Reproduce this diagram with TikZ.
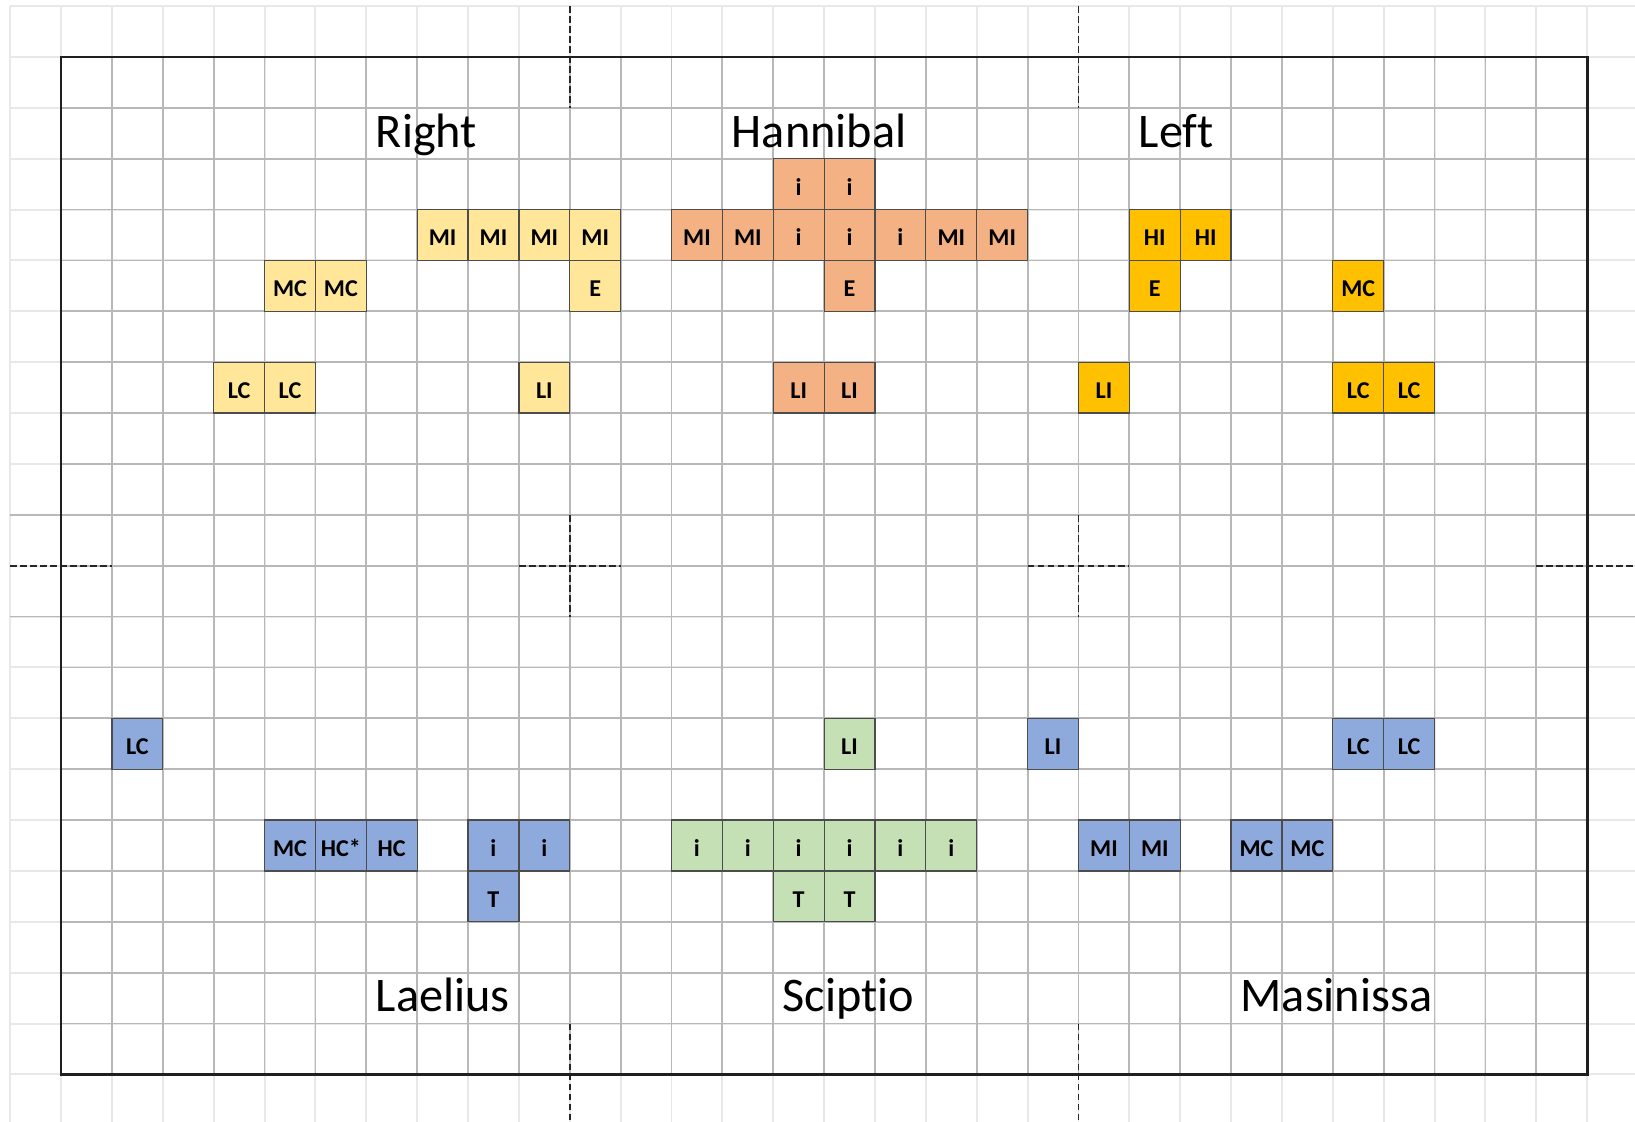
\documentclass[tikz,border=0pt]{standalone}
\usepackage{fontspec}
\setmainfont{Carlito}[Ligatures=NoCommon]

\definecolor{rightfill}{HTML}{FFE699}
\definecolor{hannfill}{HTML}{F4B183}
\definecolor{leftfill}{HTML}{FFC000}
\definecolor{romefill}{HTML}{8EA9DB}
\definecolor{scipfill}{HTML}{C5E0B4}

\tikzset{
  cell/.style={draw=black!70, line width=0.7pt, minimum size=1cm, inner sep=0pt, outer sep=0pt,
    text height=0.43cm, text depth=0cm, font=\fontsize{13.5}{15}\selectfont\bfseries},
  rightcell/.style={cell, fill=rightfill},
  hanncell/.style={cell, fill=hannfill},
  leftcell/.style={cell, fill=leftfill},
  romecell/.style={cell, fill=romefill},
  scipcell/.style={cell, fill=scipfill},
  armytitle/.style={anchor=base west, inner sep=0pt, font=\fontsize{27}{32}\selectfont},
  crossline/.style={dash pattern=on 3.8pt off 1.8pt, line width=1.1pt, black!85}
}

\begin{document}
\begin{tikzpicture}

\useasboundingbox (-1.2,1.12) rectangle (30.94,-20.92);

% sheet grid
\draw[black!9, line width=1.1pt](-1,1) grid (31,-21);
\draw[black!28, line width=1pt](0,0) grid (30,-20);
\draw[black!28, line width=1pt](-1,-9)--(31,-9);
\draw[black!28, line width=1pt](-1,-11)--(31,-11);

% dashed crosses
\draw[crossline](10,1)--(10,-1);
\draw[crossline](20,1)--(20,-1);
\draw[crossline](10,-19)--(10,-21);
\draw[crossline](20,-19)--(20,-21);
\draw[crossline](-1,-10)--(1,-10);
\draw[crossline](29,-10)--(31,-10);
\draw[crossline](9,-10)--(11,-10);
\draw[crossline](10,-9)--(10,-11);
\draw[crossline](19,-10)--(21,-10);
\draw[crossline](20,-9)--(20,-11);

\draw[black!88, line width=1.6pt](0,0) rectangle (30,-20);

\node[armytitle] (tright) at (6.18,-1.77){Right};
\node[armytitle] (thann) at (13.18,-1.77){Hannibal};
\node[armytitle] (tleft) at (21.18,-1.77){Left};
\node[armytitle] (tlael) at (6.18,-18.77){Laelius};
\node[armytitle] (tscip) at (14.18,-18.77){Sciptio};
\node[armytitle] (tmas) at (23.18,-18.77){Masinissa};

% right wing
\node[rightcell] (rMIa) at (7.5,-3.5){MI};
\node[rightcell] (rMIb) at (8.5,-3.5){MI};
\node[rightcell] (rMIc) at (9.5,-3.5){MI};
\node[rightcell] (rMId) at (10.5,-3.5){MI};
\node[rightcell] (rMCa) at (4.5,-4.5){MC};
\node[rightcell] (rMCb) at (5.5,-4.5){MC};
\node[rightcell] (rE) at (10.5,-4.5){E};
\node[rightcell] (rLCa) at (3.5,-6.5){LC};
\node[rightcell] (rLCb) at (4.5,-6.5){LC};
\node[rightcell] (rLI) at (9.5,-6.5){LI};

% Hannibal
\node[hanncell] (hia) at (14.5,-2.5){i};
\node[hanncell] (hib) at (15.5,-2.5){i};
\node[hanncell] (hMIa) at (12.5,-3.5){MI};
\node[hanncell] (hMIb) at (13.5,-3.5){MI};
\node[hanncell] (hic) at (14.5,-3.5){i};
\node[hanncell] (hid) at (15.5,-3.5){i};
\node[hanncell] (hie) at (16.5,-3.5){i};
\node[hanncell] (hMIc) at (17.5,-3.5){MI};
\node[hanncell] (hMId) at (18.5,-3.5){MI};
\node[hanncell] (hE) at (15.5,-4.5){E};
\node[hanncell] (hLIa) at (14.5,-6.5){LI};
\node[hanncell] (hLIb) at (15.5,-6.5){LI};

% left wing
\node[leftcell] (lHIa) at (21.5,-3.5){HI};
\node[leftcell] (lHIb) at (22.5,-3.5){HI};
\node[leftcell] (lE) at (21.5,-4.5){E};
\node[leftcell] (lMC) at (25.5,-4.5){MC};
\node[leftcell] (lLI) at (20.5,-6.5){LI};
\node[leftcell] (lLCa) at (25.5,-6.5){LC};
\node[leftcell] (lLCb) at (26.5,-6.5){LC};

% Laelius
\node[romecell] (laLC) at (1.5,-13.5){LC};
\node[romecell] (laMC) at (4.5,-15.5){MC};
\node[romecell] (laHCs) at (5.5,-15.5){HC*};
\node[romecell] (laHC) at (6.5,-15.5){HC};
\node[romecell] (laia) at (8.5,-15.5){i};
\node[romecell] (laib) at (9.5,-15.5){i};
\node[romecell] (laT) at (8.5,-16.5){T};

% Sciptio
\node[scipcell] (sLI) at (15.5,-13.5){LI};
\node[scipcell] (sia) at (12.5,-15.5){i};
\node[scipcell] (sib) at (13.5,-15.5){i};
\node[scipcell] (sic) at (14.5,-15.5){i};
\node[scipcell] (sid) at (15.5,-15.5){i};
\node[scipcell] (sie) at (16.5,-15.5){i};
\node[scipcell] (sif) at (17.5,-15.5){i};
\node[scipcell] (sTa) at (14.5,-16.5){T};
\node[scipcell] (sTb) at (15.5,-16.5){T};

% Masinissa
\node[romecell] (mLI) at (19.5,-13.5){LI};
\node[romecell] (mLCa) at (25.5,-13.5){LC};
\node[romecell] (mLCb) at (26.5,-13.5){LC};
\node[romecell] (mMIa) at (20.5,-15.5){MI};
\node[romecell] (mMIb) at (21.5,-15.5){MI};
\node[romecell] (mMCa) at (23.5,-15.5){MC};
\node[romecell] (mMCb) at (24.5,-15.5){MC};

\end{tikzpicture}
\end{document}
